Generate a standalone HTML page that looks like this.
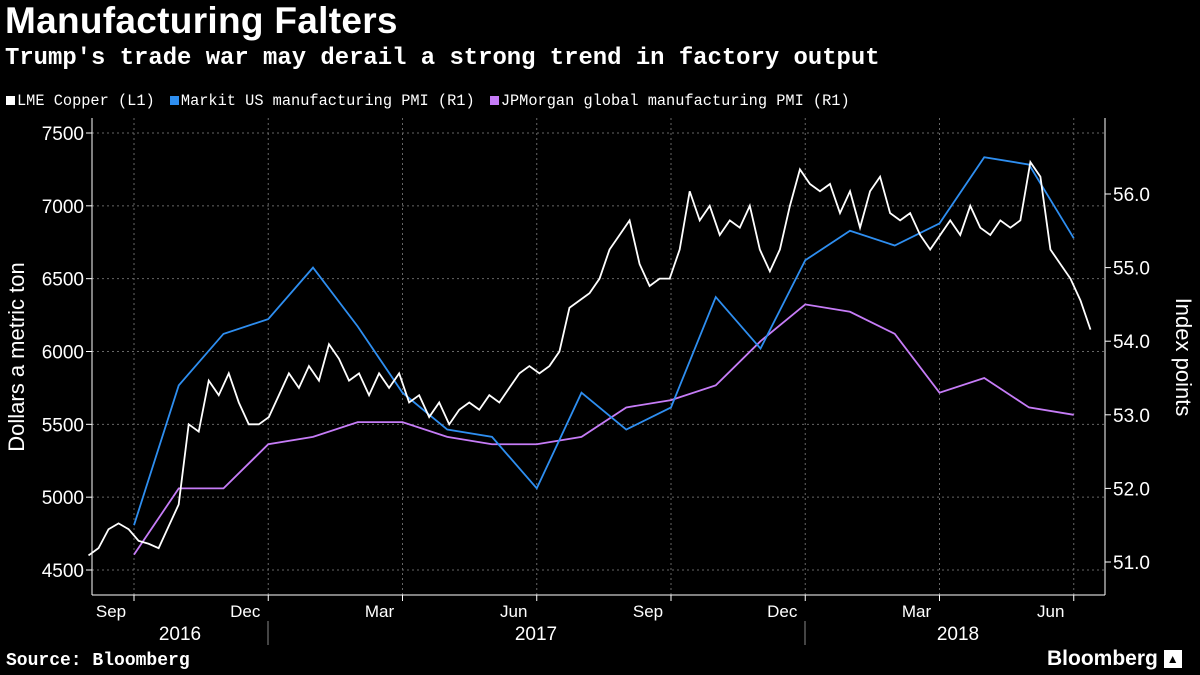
<!DOCTYPE html>
<html><head><meta charset="utf-8"><style>
html,body{margin:0;padding:0;background:#000;}
body{width:1200px;height:675px;overflow:hidden;font-family:"Liberation Sans",sans-serif;color:#fff;position:relative;}
.t{position:absolute;white-space:nowrap;}
</style></head><body>
<div class="t" style="left:5px;top:0px;font-size:37px;font-weight:bold;letter-spacing:0.3px;">Manufacturing Falters</div>
<div class="t" style="left:5px;top:45px;font-size:23.9px;font-weight:bold;font-family:'Liberation Mono',monospace;">Trump's trade war may derail a strong trend in factory output</div>
<div class="t" style="left:6px;top:92px;font-size:15.3px;font-family:'Liberation Mono',monospace;">
<span><span style="display:inline-block;width:9px;height:9px;background:#fff;margin-right:2px"></span>LME Copper (L1)</span>
<span style="margin-left:6px"><span style="display:inline-block;width:9px;height:9px;background:#2e8ef0;margin-right:2px"></span>Markit US manufacturing PMI (R1)</span>
<span style="margin-left:6px"><span style="display:inline-block;width:9px;height:9px;background:#c67cf7;margin-right:2px"></span>JPMorgan global manufacturing PMI (R1)</span>
</div>
<svg id="chart" width="1200" height="675" style="position:absolute;left:0;top:0" font-family="Liberation Sans, sans-serif"></svg>
<div class="t" style="left:6px;top:651px;font-size:18px;font-weight:bold;font-family:'Liberation Mono',monospace;">Source: Bloomberg</div>
<div class="t" style="left:1047px;top:647px;font-size:21px;font-weight:bold;">Bloomberg <span style="display:inline-block;width:18px;height:18px;background:#fff;color:#000;font-size:12px;text-align:center;line-height:18px;vertical-align:middle">▲</span></div>
<script>
const leftTicks=[4500,5000,5500,6000,6500,7000,7500];
const rightTicks=[51,52,53,54,55,56];
const monthLabels=["Sep","Dec","Mar","Jun","Sep","Dec","Mar","Jun"];
const yearLabels=["2016","2017","2018"];
const usPmi=[51.5,53.4,54.1,54.3,55.0,54.2,53.3,52.8,52.7,52.0,53.3,52.8,53.1,54.6,53.9,55.1,55.5,55.3,55.6,56.5,56.4,55.4];
const globalPmi=[51.1,52.0,52.0,52.6,52.7,52.9,52.9,52.7,52.6,52.6,52.7,53.1,53.2,53.4,54.0,54.5,54.4,54.1,53.3,53.5,53.1,53.0];
const copper=[4600,4650,4780,4820,4780,4700,4680,4650,4800,4950,5500,5450,5800,5700,5850,5650,5500,5500,5550,5700,5850,5750,5900,5800,6050,5950,5800,5850,5700,5850,5750,5850,5650,5700,5550,5650,5500,5600,5650,5600,5700,5650,5750,5850,5900,5850,5900,6000,6300,6350,6400,6500,6700,6800,6900,6600,6450,6500,6500,6700,7100,6900,7000,6800,6900,6850,7000,6700,6550,6700,7000,7250,7150,7100,7150,6950,7100,6850,7100,7200,6950,6900,6950,6800,6700,6800,6900,6800,7000,6850,6800,6900,6850,6900,7300,7200,6700,6600,6500,6350,6150];
const svg=document.getElementById('chart');const NS='http://www.w3.org/2000/svg';
function mk(t,a,p){const e=document.createElementNS(NS,t);for(const k in a)e.setAttribute(k,a[k]);(p||svg).appendChild(e);return e;}
const L=92,R=1105,T=118,B=595;
const yL=v=>570-(v-4500)*0.14567;
const yR=v=>194-(v-56)*73.6;
const xMonth=i=>134+i*44.75;
const xCu=i=>88.5+i*10.02;
leftTicks.forEach(v=>{const g=mk('line',{x1:L,x2:R,y1:yL(v),y2:yL(v),stroke:'#666','stroke-dasharray':'2,3'});

const t=mk('text',{x:84,y:yL(v)+7,'text-anchor':'end','font-size':19,fill:'#fff'});t.textContent=v;

mk('line',{x1:L-6,x2:L,y1:yL(v),y2:yL(v),stroke:'#fff'});});
for(let q=0;q<8;q++){const x=xMonth(q*3);const g=mk('line',{x1:x,x2:x,y1:T,y2:B,stroke:'#666','stroke-dasharray':'2,3'});

mk('line',{x1:x,x2:x,y1:B,y2:B+6,stroke:'#fff'});
const t=mk('text',{x:x-23,y:B+22,'text-anchor':'middle','font-size':17,fill:'#fff'});t.textContent=monthLabels[q];
}
rightTicks.forEach(v=>{mk('line',{x1:R,x2:R+6,y1:yR(v),y2:yR(v),stroke:'#fff'});
const t=mk('text',{x:1113,y:yR(v)+7,'font-size':19,fill:'#fff'});t.textContent=v.toFixed(1);
});
mk('line',{x1:L,x2:L,y1:T,y2:B,stroke:'#fff'});mk('line',{x1:R,x2:R,y1:T,y2:B,stroke:'#fff'});mk('line',{x1:L,x2:R,y1:B,y2:B,stroke:'#fff'});
[268,805].forEach(x=>mk('line',{x1:x,x2:x,y1:B+26,y2:B+50,stroke:'#888'}));
[[180,0],[536,1],[958,2]].forEach(([x,i])=>{const t=mk('text',{x:x,y:B+45,'text-anchor':'middle','font-size':19,fill:'#fff'});t.textContent=yearLabels[i];
});
let t=mk('text',{transform:'translate(24,357) rotate(-90)','text-anchor':'middle','font-size':22,fill:'#fff'});t.textContent='Dollars a metric ton';

t=mk('text',{transform:'translate(1176,357) rotate(90)','text-anchor':'middle','font-size':22,fill:'#fff'});t.textContent='Index points';

function line(arr,xf,yf,col,name){const p=mk('polyline',{points:arr.map((v,i)=>xf(i)+','+yf(v)).join(' '),fill:'none',stroke:col,'stroke-width':1.8});
}
line(globalPmi,xMonth,yR,'#c67cf7','global-pmi-line');
line(usPmi,xMonth,yR,'#2e8ef0','us-pmi-line');
line(copper,xCu,yL,'#fff','copper-line');
</script>
</body></html>
